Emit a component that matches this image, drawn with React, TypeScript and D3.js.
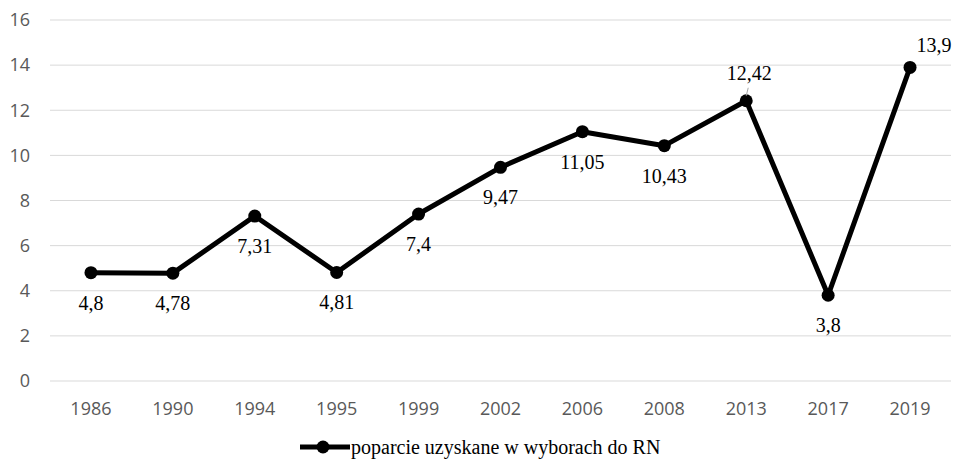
import React from 'react';
import * as d3 from 'd3';

const years = ['1986', '1990', '1994', '1995', '1999', '2002', '2006', '2008', '2013', '2017', '2019'];
const support = [4.8, 4.78, 7.31, 4.81, 7.4, 9.47, 11.05, 10.43, 12.42, 3.8, 13.9];
const valueLabels = ['4,8', '4,78', '7,31', '4,81', '7,4', '9,47', '11,05', '10,43', '12,42', '3,8', '13,9'];
const yTicks = [0, 2, 4, 6, 8, 10, 12, 14, 16];
const seriesName = 'poparcie uzyskane w wyborach do RN';

const width = 953;
const height = 465;

const App = () => {
  const x = d3.scaleBand<string>().domain(years).range([50, 951]);
  const y = d3.scaleLinear().domain([0, 16]).range([381, 20]);
  const cx = (d: string) => (x(d) as number) + x.bandwidth() / 2;

  const line = d3.line<number>()
    .x((d, i) => cx(years[i]))
    .y(d => y(d));

  // label placement: most below the point, the last two above
  const labelPos = (i: number) => {
    const px = cx(years[i]);
    const py = y(support[i]);
    if (i === 8) return { lx: px + 3, ly: py - 21 };
    if (i === 10) return { lx: px + 24, ly: py - 15 };
    return { lx: px, ly: py + 37 };
  };

  const tickFont = "'Open Sans', sans-serif";
  const serif = "'Liberation Serif', 'Times New Roman', serif";

  return (
    <svg width={width} height={height} style={{ position: 'absolute', left: 0, top: 0, background: '#fff' }}>
      {yTicks.map(t => (
        <g key={t}>
          <line x1={50} x2={951} y1={y(t)} y2={y(t)} stroke="#d9d9d9" strokeWidth={1} />
          <text x={30} y={y(t)} dy="0.35em" textAnchor="end" fontFamily={tickFont} fontSize={18} fill="#595959">{t}</text>
        </g>
      ))}
      {years.map(yr => (
        <text key={yr} x={cx(yr)} y={415} textAnchor="middle" fontFamily={tickFont} fontSize={18} fill="#595959">{yr}</text>
      ))}
      <path d={line(support) || ''} fill="none" stroke="#000" strokeWidth={5} strokeLinejoin="round" />
      {support.map((v, i) => (
        <circle key={i} cx={cx(years[i])} cy={y(v)} r={6.5} fill="#000" />
      ))}
      {/* leader line for 12,42 */}
      <line x1={cx(years[8]) + 2} y1={y(support[8]) - 13} x2={cx(years[8])} y2={y(support[8]) - 5} stroke="#a6a6a6" strokeWidth={1} />
      {valueLabels.map((lab, i) => {
        const { lx, ly } = labelPos(i);
        return (
          <text key={lab} x={lx} y={ly} textAnchor="middle" fontFamily={serif} fontSize={20} fill="#000">{lab}</text>
        );
      })}
      <g>
        <line x1={300} x2={350} y1={447} y2={447} stroke="#000" strokeWidth={5} />
        <circle cx={323} cy={447} r={6.5} fill="#000" />
        <text x={351} y={454} fontFamily={serif} fontSize={20} fill="#000">{seriesName}</text>
      </g>
    </svg>
  );
};

export default App;
